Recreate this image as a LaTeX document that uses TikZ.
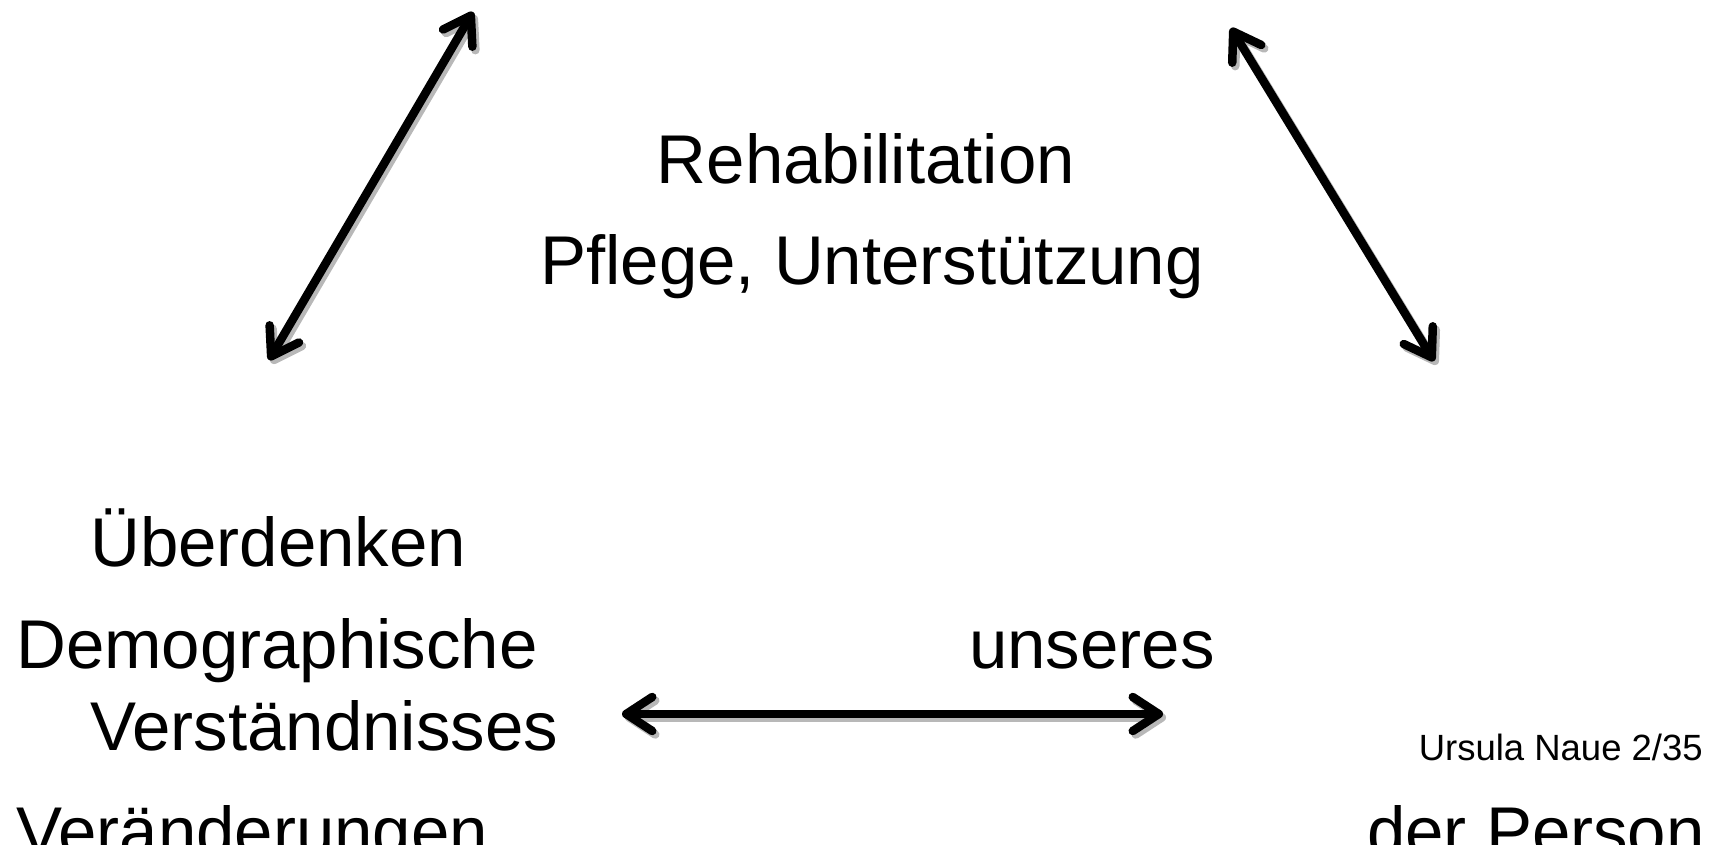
\documentclass[tikz,border=0pt]{standalone}
\usepackage{fontspec}
\setmainfont{Liberation Sans}
\usetikzlibrary{arrows.meta}
\tikzset{
  big/.style={inner sep=0pt, font=\fontsize{69}{80}\selectfont},
  small/.style={inner sep=0pt, font=\fontsize{36.5}{44}\selectfont},
  arrline/.style={line width=8.5pt, line cap=round, {Straight Barb[length=26pt, width=34pt, line cap=round, line join=round]}-{Straight Barb[length=26pt, width=34pt, line cap=round, line join=round]}},
  arrshadow/.style={arrline, draw=black!28, transform canvas={shift={(3pt,-3.5pt)}}},
}
\begin{document}
\begin{tikzpicture}[x=1pt,y=-1pt]
\useasboundingbox (0,0) rectangle (1717,845);
\clip (0,0) rectangle (1717,845);
\node[big, anchor=base] (reha) at (866,184) {Rehabilitation};
\node[big, anchor=base] (pflege) at (872,285) {Pflege, Unterstützung};
\node[big, anchor=base west] (ueber) at (90,566) {Überdenken};
\node[big, anchor=base west] (demo) at (16,668) {Demographische};
\node[big, anchor=base west] (verst) at (90,750) {Verständnisses};
\node[big, anchor=base west] (veraend) at (16,855) {Veränderungen};
\node[big, anchor=base west] (unseres) at (969,668) {unseres};
\node[big, anchor=base west] (person) at (1367,855) {der Person};
\node[small, anchor=base east] (naue) at (1703,760) {Ursula Naue 2/35};
\coordinate (a1t) at (473,12);
\coordinate (a1b) at (269,360);
\coordinate (a2t) at (1231,28);
\coordinate (a2b) at (1434,361);
\coordinate (a3l) at (622,714);
\coordinate (a3r) at (1163,714);
\draw[arrshadow] (a1b) -- (a1t);
\draw[arrshadow] (a2t) -- (a2b);
\draw[arrshadow] (a3l) -- (a3r);
\draw[arrline] (a1b) -- (a1t);
\draw[arrline] (a2t) -- (a2b);
\draw[arrline] (a3l) -- (a3r);
\end{tikzpicture}
\end{document}
